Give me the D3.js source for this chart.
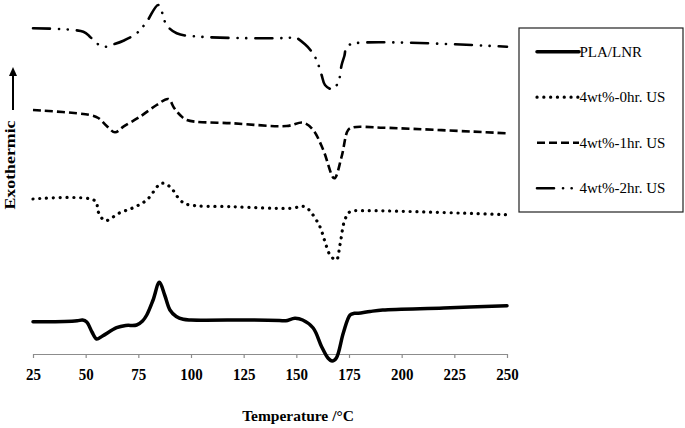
<!DOCTYPE html>
<html>
<head>
<meta charset="utf-8">
<script src="https://cdn.jsdelivr.net/npm/d3@7"></script>
<style>
  html, body { margin: 0; padding: 0; background: #fff; }
  svg text { font-family: "Liberation Serif", "Times New Roman", serif; fill: #000; }
</style>
</head>
<body>
<div id="chart"></div>
<script>
// DSC traces, temperature (°C) vs heat flow (arbitrary, stacked units)
var seriesNames = ['PLA/LNR', '4wt%-0hr. US', '4wt%-1hr. US', '4wt%-2hr. US'];
var xTicks = [25, 50, 75, 100, 125, 150, 175, 200, 225, 250];

var plaLnr = [
	[25, 3.23], [40, 3.25], [46, 3.32], [48.5, 3.4], [50.5, 3.2], [53, 2.2], [55.2, 1.5], [58, 1.8],
	[64.7, 2.63], [69, 2.85], [74.2, 2.9], [77, 3.3], [79, 3.9], [82, 5.4], [85, 7.17], [87.5, 5.9],
	[90, 4.4], [93, 3.75], [96.3, 3.47], [100, 3.4], [130, 3.4], [142, 3.35], [145, 3.32], [149.3, 3.57],
	[153, 3.4], [158, 2.6], [162, 0.73], [165, -0.4], [167, -0.7], [169, -0.4], [172.3, 2.1], [175.5, 3.9],
	[177.5, 4.07], [179.4, 4.07], [185, 4.25], [191, 4.4], [220, 4.6], [250, 4.83]
];
var us0hr = [
	[25, 15.5], [54.4, 15.33], [56, 14.2], [59.2, 13.33], [66, 14.1], [72.6, 14.63], [79, 15.4], [86, 17.07],
	[90, 16.73], [94.8, 15.4], [98, 14.97], [120, 14.73], [147, 14.57], [154, 14.73], [157.3, 14.07],
	[161.2, 12.73], [163.6, 11.23], [166, 9.9], [169, 9.4], [170.7, 10.9], [173, 13.4], [175.5, 14.23],
	[181.6, 14.33], [250, 13.93]
];
var us1hr = [
	[25, 24.4], [52, 23.9], [56, 23.6], [60, 22.8], [63.9, 22.17], [67.9, 22.73], [75.8, 23.73], [83.7, 24.9],
	[89.2, 25.5], [92, 24.6], [94.8, 23.9], [98, 23.4], [120, 23.07], [145.4, 22.8], [153.3, 23.13], [158, 22.4],
	[162.8, 20.4], [168, 17.57], [171.5, 19.73], [174.6, 22.4], [177, 22.67], [191.2, 22.63], [250, 22.07]
];
var us2hr = [
	[25, 32.57], [48.9, 32.23], [52, 31.73], [55, 31.1], [59.2, 30.73], [63, 30.95], [67.9, 31.33], [74.2, 32.07],
	[79, 33.23], [84.5, 34.9], [88.4, 32.9], [93.2, 32.07], [104.3, 31.73], [147, 31.63], [149, 31.72],
	[154.1, 30.97], [157.3, 30.23], [159.6, 29.4], [162, 27.9], [163.6, 26.9], [167.2, 26.47], [170, 27.23],
	[171.5, 28.9], [172.8, 29.8], [173.9, 30.73], [177.8, 31.07], [250, 30.73]
];

var allSeries = [plaLnr, us0hr, us1hr, us2hr];
var styles = [
	{ width: 3.5, dash: null, cap: 'round' },
	{ width: 3.2, dash: '0.1,6.7', cap: 'round' },
	{ width: 2.6, dash: '8,4', cap: 'butt' },
	{ width: 2.6, dash: '17,9,0.1,8.5,0.1,9', cap: 'round' }
];

var width = 685, height = 428;
var svg = d3.select('#chart').append('svg')
	.attr('width', width)
	.attr('height', height);

var x = d3.scaleLinear().domain([25, 250]).range([33, 507]);
var y = d3.scaleLinear().domain([-1, 34]).range([364, 14]);
var axisY = 354;

// x axis
var xAxis = d3.axisBottom(x).tickValues(xTicks).tickSize(4).tickSizeOuter(0);
var gx = svg.append('g')
	.attr('transform', 'translate(0,' + axisY + ')')
	.call(xAxis);
gx.select('.domain').attr('stroke', '#8c8c8c').attr('stroke-width', 1.2);
gx.selectAll('.tick line').attr('stroke', '#8c8c8c').attr('stroke-width', 1.2);
gx.selectAll('.tick text')
	.attr('y', 0)
	.attr('dy', 0)
	.attr('transform', 'translate(0,26) scale(1,1.15)')
	.style('font-family', '"Liberation Serif", "Times New Roman", serif')
	.style('font-weight', 'bold')
	.style('font-size', '15px')
	.attr('fill', '#000');

svg.append('text')
	.attr('x', 298)
	.attr('y', 421)
	.attr('text-anchor', 'middle')
	.style('font-weight', 'bold')
	.style('font-size', '15.5px')
	.text('Temperature /°C');

// y label with arrow
svg.append('text')
	.attr('transform', 'translate(14.5,165) rotate(-90) scale(1.15,1)')
	.attr('text-anchor', 'middle')
	.style('font-weight', 'bold')
	.style('font-size', '15.5px')
	.text('Exothermic');
svg.append('line')
	.attr('x1', 13).attr('x2', 13)
	.attr('y1', 110).attr('y2', 74)
	.attr('stroke', '#000').attr('stroke-width', 2);
svg.append('path')
	.attr('d', 'M9,76L13,67L17,76Z')
	.attr('fill', '#000');

// curves
var line = d3.line()
	.x(function(d) { return x(d[0]); })
	.y(function(d) { return y(d[1]); })
	.curve(d3.curveCatmullRom.alpha(0.5));

svg.selectAll('path.trace')
	.data(allSeries)
	.enter()
	.append('path')
	.attr('class', 'trace')
	.attr('d', line)
	.attr('fill', 'none')
	.attr('stroke', '#000')
	.attr('stroke-width', function(d, i) { return styles[i].width; })
	.attr('stroke-dasharray', function(d, i) { return styles[i].dash; })
	.attr('stroke-linecap', function(d, i) { return styles[i].cap; })
	.attr('stroke-linejoin', 'round');

// legend
var legend = svg.append('g').attr('transform', 'translate(519,28)');
legend.append('rect')
	.attr('x', 0).attr('y', 0)
	.attr('width', 164).attr('height', 184)
	.attr('fill', '#fff')
	.attr('stroke', '#222')
	.attr('stroke-width', 1.2);

var item = legend.selectAll('g.item')
	.data(seriesNames)
	.enter()
	.append('g')
	.attr('class', 'item')
	.attr('transform', function(d, i) { return 'translate(0,' + (23.7 + i * 45.5) + ')'; });

item.append('line')
	.attr('x1', 18).attr('x2', 60)
	.attr('y1', 0).attr('y2', 0)
	.attr('stroke', '#000')
	.attr('stroke-width', function(d, i) { return styles[i].width; })
	.attr('stroke-dasharray', function(d, i) { return styles[i].dash; })
	.attr('stroke-linecap', function(d, i) { return styles[i].cap; });

item.append('text')
	.attr('x', 60.5)
	.attr('y', 5)
	.style('font-size', '15px')
	.text(function(d) { return d; });
</script>
</body>
</html>
